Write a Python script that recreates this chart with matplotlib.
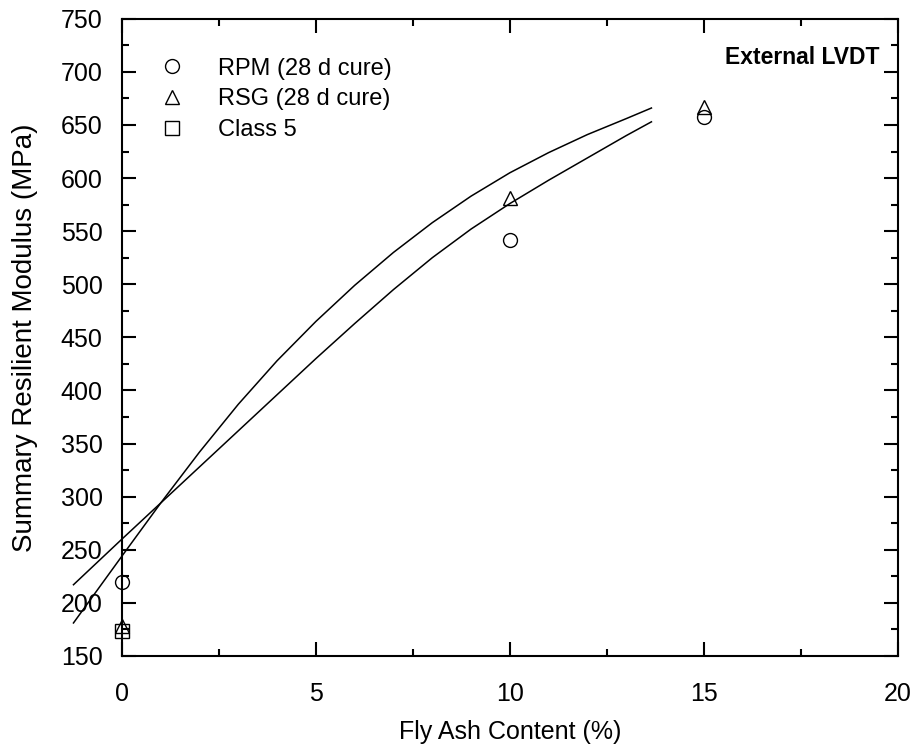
import matplotlib
matplotlib.use("Agg")
import matplotlib.pyplot as plt
from matplotlib.ticker import MultipleLocator

plt.rcParams["font.family"] = ["Liberation Sans", "DejaVu Sans"]

# measured points
fly_ash = [0, 10, 15]
rpm = [220, 542, 658]
rsg = [178, 581, 667]
class5_x = [0]
class5 = [173.5]

# trend curves
fit_x = [-1.25, 0, 1, 2, 3, 4, 5, 6, 7, 8, 9, 10, 11, 12, 13, 13.65]
fit_a = [181, 244, 294, 342, 387, 428, 465, 499, 530, 558, 583, 605, 624, 641, 656, 666]
fit_b = [217, 260, 294, 328, 362, 396, 430, 463, 495, 525, 552, 576, 598, 619, 640, 653]

fig = plt.figure(figsize=(9.17, 7.53), dpi=100)
ax = fig.add_axes([0.133, 0.129, 0.846, 0.846])

ax.plot(fit_x, fit_a, color="black", lw=1.1, clip_on=False, zorder=2)
ax.plot(fit_x, fit_b, color="black", lw=1.1, clip_on=False, zorder=2)

mk = dict(linestyle="none", markerfacecolor="none", markeredgecolor="black",
          markeredgewidth=1.0, clip_on=False, zorder=5)
ax.plot(fly_ash, rpm, marker="o", markersize=10, label="RPM (28 d cure)", **mk)
ax.plot(fly_ash, rsg, marker="^", markersize=10, label="RSG (28 d cure)", **mk)
ax.plot(class5_x, class5, marker="s", markersize=10, label="Class 5", **mk)

ax.set_xlim(0, 20)
ax.set_ylim(150, 750)
ax.xaxis.set_major_locator(MultipleLocator(5))
ax.xaxis.set_minor_locator(MultipleLocator(2.5))
ax.yaxis.set_major_locator(MultipleLocator(50))
ax.yaxis.set_minor_locator(MultipleLocator(25))
ax.tick_params(which="both", direction="in", top=True, right=True, width=1.5,
               labelsize=18, colors="black")
ax.tick_params(which="major", length=10)
ax.tick_params(which="minor", length=5)
ax.tick_params(axis="x", which="major", pad=19)
ax.tick_params(axis="y", which="major", pad=14)
for s in ax.spines.values():
    s.set_linewidth(1.5)

ax.set_xlabel("Fly Ash Content (%)", fontsize=18, labelpad=10)
ax.set_ylabel("Summary Resilient Modulus (MPa)", fontsize=20, labelpad=16)

ax.text(0.977, 0.940, "External LVDT", transform=ax.transAxes, ha="right",
        va="center", fontsize=16.5, fontweight="bold")

ax.legend(loc="upper left", bbox_to_anchor=(0.049, 0.939), frameon=False,
          fontsize=17, handlelength=1.0, handletextpad=1.44, labelspacing=0.37,
          borderaxespad=0, borderpad=0)

fig.savefig("out.png", dpi=100)
